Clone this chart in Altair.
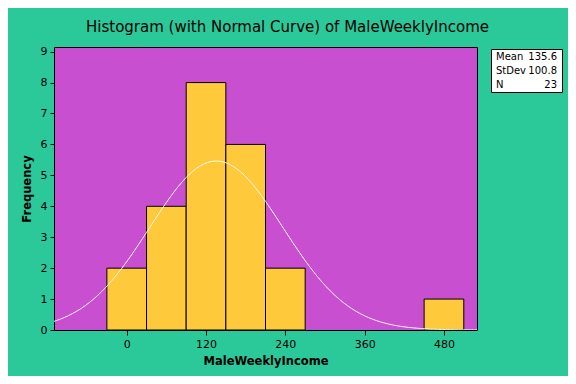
import altair as alt
import pandas as pd

# Data
bin_starts = [-30, 30, 90, 150, 210, 270, 330, 390, 450]
bin_ends = [30, 90, 150, 210, 270, 330, 390, 450, 510]
counts = [2, 4, 8, 6, 2, 0, 0, 0, 1]
mean_val = 135.6
sd_val = 100.8
n_val = 23
bin_width = 60
x_ticks = [0, 120, 240, 360, 480]
y_ticks = [0, 1, 2, 3, 4, 5, 6, 7, 8, 9]
stat_names = ["Mean", "StDev", "N"]
stat_values = ["135.6", "100.8", "23"]

GREEN = "#2BC99A"
PURPLE = "#C74FD0"
YELLOW = "#FFC93C"
FONT = "DejaVu Sans"

bars_df = pd.DataFrame({"start": bin_starts, "end": bin_ends, "count": counts})
bars_df = bars_df[bars_df["count"] > 0]

xscale = alt.Scale(domain=[-110, 530], nice=False, zero=False)
yscale = alt.Scale(domain=[0, 9.15], nice=False)
x_axis = alt.Axis(values=x_ticks, title="MaleWeeklyIncome", tickSize=5,
                  labelPadding=3, titlePadding=6, grid=False, labelOverlap=False)
y_axis = alt.Axis(values=y_ticks, title="Frequency", tickSize=4,
                  labelPadding=3, titlePadding=8, grid=False, labelOverlap=False)

bars = alt.Chart(bars_df).mark_rect(fill=YELLOW, stroke="black", strokeWidth=1).encode(
    x=alt.X("start:Q", scale=xscale, axis=x_axis),
    x2="end:Q",
    y=alt.Y("count:Q", scale=yscale, axis=y_axis),
    y2=alt.datum(0),
)

curve = alt.Chart(alt.sequence(start=-110, stop=531, step=2, as_="x")).transform_calculate(
    y=f"{n_val}*{bin_width}*exp(-0.5*pow((datum.x-{mean_val})/{sd_val},2))/({sd_val}*sqrt(2*PI))"
).mark_line(color="white", strokeWidth=1, clip=True).encode(
    x=alt.X("x:Q", scale=xscale, axis=x_axis),
    y=alt.Y("y:Q", scale=yscale, axis=y_axis),
)

# stats box (outside the plot area, at right)
box = alt.Chart(pd.DataFrame({"a": [0]})).mark_rect(
    fill="white", stroke="black", strokeWidth=1
).encode(
    x=alt.value(437.5), x2=alt.value(508.5), y=alt.value(2.5), y2=alt.value(45.5)
)

stats_df = pd.DataFrame({"name": stat_names, "value": stat_values})
row_y = [9.5, 23.5, 37.5]
stat_layers = []
for i, nm in enumerate(stat_names):
    sub = stats_df[stats_df["name"] == nm]
    stat_layers.append(alt.Chart(sub).mark_text(
        align="left", baseline="middle", fontSize=10, font=FONT, color="black"
    ).encode(x=alt.value(442), y=alt.value(row_y[i]), text="name:N"))
    stat_layers.append(alt.Chart(sub).mark_text(
        align="right", baseline="middle", fontSize=10, font=FONT, color="black"
    ).encode(x=alt.value(503), y=alt.value(row_y[i]), text="value:N"))

chart = alt.layer(bars, curve, box, *stat_layers).properties(
    width=423,
    height=283,
    background=GREEN,
    padding={"left": 46, "top": 39, "right": 91, "bottom": 46},
    autosize=alt.AutoSizeParams(type="none"),
    title=alt.TitleParams(
        "Histogram (with Normal Curve) of MaleWeeklyIncome",
        fontSize=15, font=FONT, fontWeight="normal", color="black",
        anchor="middle", dx=22, offset=11,
    ),
).configure_view(
    fill=PURPLE, stroke="black", strokeWidth=1
).configure_axis(
    domain=False, tickColor="black", labelColor="black", titleColor="black",
    labelFont=FONT, titleFont=FONT, labelFontSize=11, titleFontSize=11.5,
    titleFontWeight="bold",
)

chart.save("out.html", embed_options={"renderer": "svg", "actions": False})
